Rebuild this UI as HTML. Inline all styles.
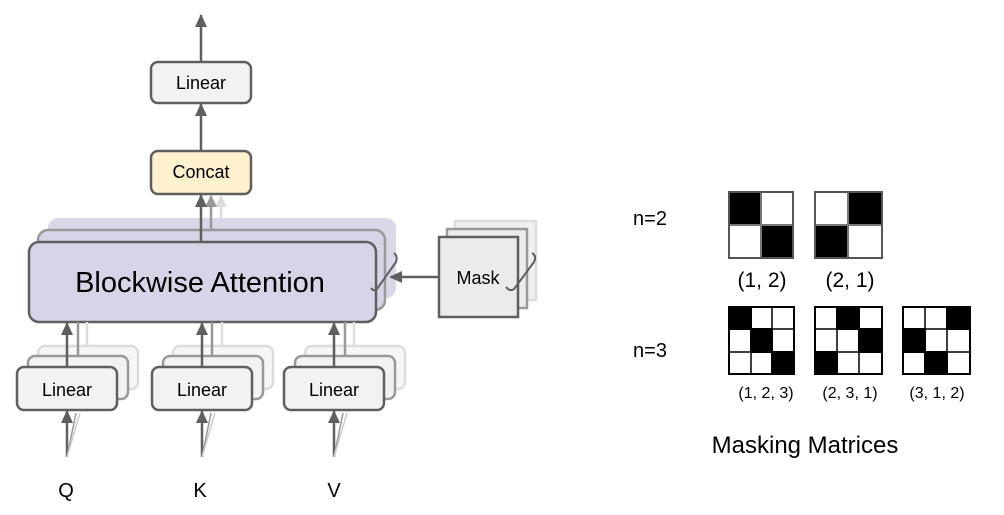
<!DOCTYPE html>
<html><head><style>body{margin:0;background:#fff}svg{display:block}text{font-family:"Liberation Sans",Arial,sans-serif}</style></head>
<body>
<svg width="1004" height="515" viewBox="0 0 1004 515" xmlns="http://www.w3.org/2000/svg">
<defs>
<marker id="a" markerWidth="13" markerHeight="12" refX="12" refY="6" orient="auto" markerUnits="userSpaceOnUse" viewBox="0 0 13 12"><path d="M0,0 L13,6 L0,12 Z" fill="#5f5f5f"/></marker>
</defs>
<g stroke="#5f5f5f" stroke-width="2.5" fill="none">
<line x1="201" y1="62" x2="201" y2="15" marker-end="url(#a)"/>
<rect x="151" y="62" width="100" height="41" rx="7" fill="#f2f2f2"/>
<line x1="201" y1="151" x2="201" y2="104" marker-end="url(#a)"/>
<rect x="151" y="151" width="100" height="43" rx="7" fill="#fdf1cf"/>
<rect x="48" y="218" width="348" height="80" rx="10" fill="#dcd6e9" stroke="none"/>
<line x1="221" y1="218" x2="221" y2="196" stroke="#ddd" stroke-width="2.5"/>
<path d="M215,207 L221,195 L227,207 Z" fill="#ddd" stroke="none"/>
<rect x="38" y="230" width="347" height="80" rx="10" fill="#d9d3e8" stroke="#999"/>
<line x1="211" y1="230" x2="211" y2="196" stroke="#999"/>
<path d="M205,207 L211,195 L217,207 Z" fill="#999" stroke="none"/>
<line x1="201" y1="242" x2="201" y2="195" marker-end="url(#a)"/>
<rect x="29" y="242" width="347" height="80" rx="10" fill="#d9d3e8"/>
<path d="M371,288 Q374,292 377,289 L396,262 Q398,256 394,253" stroke-width="2"/>
<rect x="455" y="221" width="81" height="79" fill="#f0f0f0" stroke="#ddd"/>
<rect x="447" y="229" width="80" height="79" fill="#ececec" stroke="#999"/>
<rect x="439" y="237" width="79" height="80" fill="#ebebeb"/>
<path d="M506,287 Q510,292 514,289 L534,262 Q537,256 532,253" stroke-width="2"/>
<line x1="439" y1="277" x2="391" y2="277"/>
<path d="M389,277 L402,271 L402,283 Z" fill="#5f5f5f" stroke="none"/>
</g>
<g stroke="#5f5f5f" stroke-width="2.5" fill="none">
<g>
<rect x="38" y="346" width="100" height="43" rx="7" fill="#f6f6f6" stroke="#ddd"/>
<rect x="28" y="356" width="100" height="43" rx="7" fill="#f2f2f2" stroke="#999"/>
<line x1="87" y1="346" x2="87" y2="322" stroke="#ddd"/>
<line x1="78" y1="356" x2="78" y2="322" stroke="#999"/>
<rect x="17" y="367" width="100" height="43" rx="7" fill="#f2f2f2"/>
<line x1="67" y1="367" x2="67" y2="323" marker-end="url(#a)"/>
<line x1="67" y1="457" x2="67" y2="411" marker-end="url(#a)"/>
<line x1="67" y1="457" x2="76" y2="413" stroke="#999" stroke-width="1.5"/>
<line x1="67" y1="457" x2="80" y2="413" stroke="#ccc" stroke-width="1.5"/>
</g>
<g>
<rect x="173" y="346" width="100" height="43" rx="7" fill="#f6f6f6" stroke="#ddd"/>
<rect x="163" y="356" width="100" height="43" rx="7" fill="#f2f2f2" stroke="#999"/>
<line x1="222" y1="346" x2="222" y2="322" stroke="#ddd"/>
<line x1="212" y1="356" x2="212" y2="322" stroke="#999"/>
<rect x="152" y="367" width="100" height="43" rx="7" fill="#f2f2f2"/>
<line x1="202" y1="367" x2="202" y2="323" marker-end="url(#a)"/>
<line x1="202" y1="457" x2="202" y2="411" marker-end="url(#a)"/>
<line x1="202" y1="457" x2="211" y2="413" stroke="#999" stroke-width="1.5"/>
<line x1="202" y1="457" x2="215" y2="413" stroke="#ccc" stroke-width="1.5"/>
</g>
<g>
<rect x="305" y="346" width="100" height="43" rx="7" fill="#f6f6f6" stroke="#ddd"/>
<rect x="295" y="356" width="100" height="43" rx="7" fill="#f2f2f2" stroke="#999"/>
<line x1="354" y1="346" x2="354" y2="322" stroke="#ddd"/>
<line x1="345" y1="356" x2="345" y2="322" stroke="#999"/>
<rect x="284" y="367" width="100" height="43" rx="7" fill="#f2f2f2"/>
<line x1="334" y1="367" x2="334" y2="323" marker-end="url(#a)"/>
<line x1="334" y1="457" x2="334" y2="411" marker-end="url(#a)"/>
<line x1="334" y1="457" x2="343" y2="413" stroke="#999" stroke-width="1.5"/>
<line x1="334" y1="457" x2="347" y2="413" stroke="#ccc" stroke-width="1.5"/>
</g>
</g>
<g fill="#000" text-anchor="middle">
<text x="201" y="89" font-size="18">Linear</text>
<text x="201" y="178" font-size="18">Concat</text>
<text x="200" y="292" font-size="29">Blockwise Attention</text>
<text x="478" y="284" font-size="18">Mask</text>
<text x="67" y="396" font-size="18">Linear</text>
<text x="202" y="396" font-size="18">Linear</text>
<text x="334" y="396" font-size="18">Linear</text>
<text x="66" y="497" font-size="20">Q</text>
<text x="200" y="497" font-size="20">K</text>
<text x="334" y="497" font-size="20">V</text>
<text x="650" y="225" font-size="20">n=2</text>
<text x="650" y="357" font-size="20">n=3</text>
<text x="762" y="287" font-size="21">(1, 2)</text>
<text x="850" y="287" font-size="21">(2, 1)</text>
<text x="766" y="398" font-size="16">(1, 2, 3)</text>
<text x="850" y="398" font-size="16">(2, 3, 1)</text>
<text x="937" y="398" font-size="16">(3, 1, 2)</text>
<text x="805" y="453" font-size="24">Masking Matrices</text>
</g>
<g stroke="#777" stroke-width="2">
<rect x="729" y="192" width="64" height="66" fill="#fff"/>
<rect x="729" y="192" width="32" height="33" fill="#000"/>
<rect x="761" y="225" width="32" height="33" fill="#000"/>
<rect x="729" y="192" width="64" height="66" fill="none" stroke="#555"/>
<rect x="815" y="192" width="67" height="66" fill="#fff"/>
<rect x="848" y="192" width="34" height="33" fill="#000"/>
<rect x="815" y="225" width="33" height="33" fill="#000"/>
<rect x="815" y="192" width="67" height="66" fill="none" stroke="#555"/>
</g>
<g stroke="#000" stroke-width="2">
<g transform="translate(729,307)">
<rect width="65" height="67" fill="#fff"/>
<rect x="0" y="0" width="22" height="22" fill="#000"/><rect x="22" y="22" width="21" height="23" fill="#000"/><rect x="43" y="45" width="22" height="22" fill="#000"/>
<path d="M22,0V67M43,0V67M0,22H65M0,45H65" stroke-width="1.5"/>
</g>
<g transform="translate(815,307)">
<rect width="67" height="67" fill="#fff"/>
<rect x="22" y="0" width="22" height="22" fill="#000"/><rect x="44" y="22" width="23" height="23" fill="#000"/><rect x="0" y="45" width="22" height="22" fill="#000"/>
<path d="M22,0V67M44,0V67M0,22H67M0,45H67" stroke-width="1.5"/>
</g>
<g transform="translate(903,307)">
<rect width="67" height="67" fill="#fff"/>
<rect x="44" y="0" width="23" height="22" fill="#000"/><rect x="0" y="22" width="22" height="23" fill="#000"/><rect x="22" y="45" width="22" height="22" fill="#000"/>
<path d="M22,0V67M44,0V67M0,22H67M0,45H67" stroke-width="1.5"/>
</g>
</g>
</svg>
</body></html>
